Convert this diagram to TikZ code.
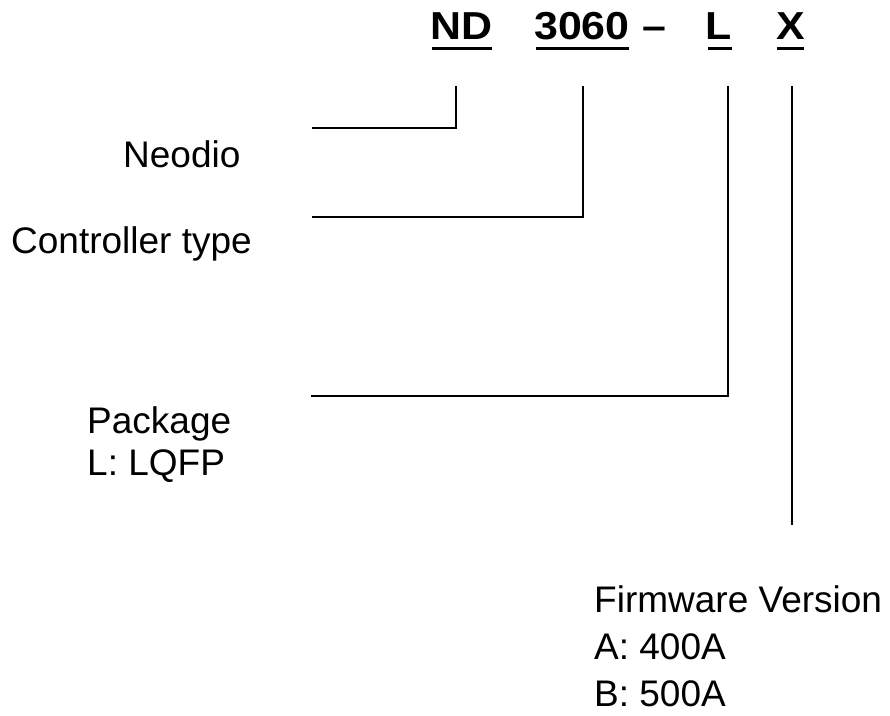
\documentclass[tikz,border=0pt]{standalone}
\usepackage{fontspec}
\usepackage{graphicx}
\setmainfont{Liberation Sans}
\usetikzlibrary{calc}
\newcommand{\hdrtext}[1]{\scalebox{1.1}[1]{#1}}
\tikzset{
  hdr/.style={inner sep=0pt, anchor=base west, font=\fontsize{39}{39}\selectfont\bfseries},
  lbl/.style={inner sep=0pt, anchor=base west, font=\fontsize{37}{42}\selectfont, align=left},
  fwlbl/.style={inner sep=0pt, anchor=base west, font=\fontsize{37}{47}\selectfont, align=left},
  ul/.style={line width=3pt},
  conn/.style={line width=2.8pt, line join=miter, line cap=butt}
}
\begin{document}
\begin{tikzpicture}[x=1pt,y=-1pt]
\useasboundingbox (0,0) rectangle (890,715);
% header
\node[hdr] (nd) at (430,39) {\hdrtext{ND}};
\node[hdr] (num) at (534,39) {\hdrtext{3060}};
\node[hdr] (dash) at (642,39) {\hdrtext{--}};
\node[hdr] (l) at (705,39) {\hdrtext{L}};
\node[hdr] (x) at (776,39) {\hdrtext{X}};
\draw[ul] ($(nd.base west)+(2,9.5)$) -- ($(nd.base east)+(0,9.5)$);
\draw[ul] ($(num.base west)+(2,9.5)$) -- ($(num.base east)+(-1,9.5)$);
\draw[ul] ($(l.base west)+(3,9.5)$) -- ($(l.base east)+(0,9.5)$);
\draw[ul] ($(x.base west)+(1,9.5)$) -- ($(x.base east)+(-1,9.5)$);
% labels
\node[lbl] (neo) at (123,167) {Neodio};
\node[lbl] (ctl) at (11,253) {Controller type};
\node[lbl] (pkg) at (87,475) {Package\\L: LQFP};
\node[fwlbl] (fw) at (594,706) {Firmware Version\\A: 400A\\B: 500A};
% connectors
\coordinate (ndtop) at (456,86);
\coordinate (ndend) at (312,128);
\coordinate (numtop) at (583,86);
\coordinate (numend) at (312,217);
\coordinate (ltop) at (728,86);
\coordinate (lend) at (311,396);
\coordinate (xtop) at (792,86);
\coordinate (xend) at (792,525);
\draw[conn] (ndtop) |- (ndend);
\draw[conn] (numtop) |- (numend);
\draw[conn] (ltop) |- (lend);
\draw[conn] (xtop) -- (xend);
\end{tikzpicture}
\end{document}
